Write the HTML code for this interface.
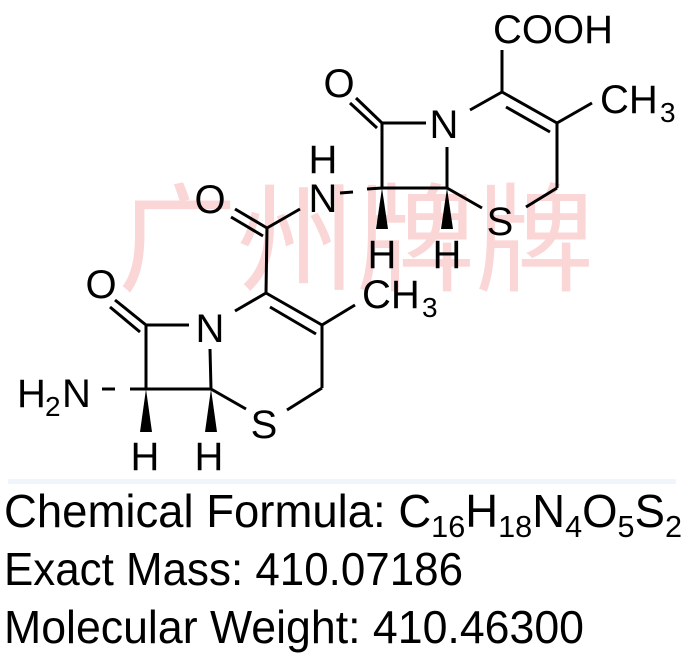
<!DOCTYPE html>
<html><head><meta charset="utf-8"><style>
html,body{margin:0;padding:0;background:#fff;}
svg{display:block;}
</style></head><body>
<svg width="684" height="665" viewBox="0 0 684 665" xmlns="http://www.w3.org/2000/svg">
<rect width="684" height="665" fill="#fff"/>
<text x="118" y="282" font-family="Noto Sans CJK SC, WenQuanYi Zen Hei, sans-serif" font-size="118" fill="#fbd6d6" textLength="476" lengthAdjust="spacingAndGlyphs">广州牌牌</text>
<rect x="8" y="479" width="668" height="5" fill="#f0f5fb"/>
<g stroke="#000" stroke-width="3" fill="none" stroke-linecap="butt">
<line x1="502" y1="92" x2="502" y2="50"/>
<line x1="470" y1="110" x2="502" y2="92"/>
<line x1="502" y1="92" x2="557" y2="123"/>
<line x1="506" y1="107" x2="550" y2="132"/>
<line x1="557" y1="123" x2="592" y2="103"/>
<line x1="557" y1="123" x2="557" y2="188"/>
<line x1="557" y1="188" x2="526" y2="207"/>
<line x1="482" y1="208" x2="447" y2="188"/>
<line x1="447" y1="188" x2="447" y2="147"/>
<line x1="447" y1="188" x2="382" y2="188"/>
<line x1="382" y1="188" x2="382" y2="123"/>
<line x1="382" y1="123" x2="426" y2="123"/>
<line x1="382" y1="123" x2="356" y2="98"/>
<line x1="377" y1="128" x2="350" y2="103"/>
<line x1="340" y1="193" x2="353" y2="192"/>
<line x1="367" y1="189" x2="382" y2="188"/>
<line x1="300" y1="209" x2="267" y2="228"/>
<line x1="267" y1="228" x2="235" y2="209"/>
<line x1="263" y1="236" x2="231" y2="217"/>
<line x1="267" y1="228" x2="266" y2="293"/>
<line x1="266" y1="293" x2="235" y2="311"/>
<line x1="266" y1="293" x2="322" y2="325"/>
<line x1="270" y1="307" x2="316" y2="334"/>
<line x1="322" y1="325" x2="355" y2="305"/>
<line x1="322" y1="325" x2="322" y2="388"/>
<line x1="322" y1="388" x2="287" y2="410"/>
<line x1="246" y1="409" x2="211" y2="389"/>
<line x1="211" y1="389" x2="210" y2="349"/>
<line x1="211" y1="389" x2="146" y2="389"/>
<line x1="146" y1="389" x2="146" y2="325"/>
<line x1="146" y1="325" x2="189" y2="325"/>
<line x1="146" y1="325" x2="115" y2="300"/>
<line x1="140" y1="332" x2="110" y2="307"/>
<line x1="102" y1="389" x2="115" y2="389"/>
<line x1="130" y1="389" x2="146" y2="389"/>
</g>
<g fill="#000">
<polygon points="382,188 376,229 388,229"/>
<polygon points="447,188 441,229 453,229"/>
<polygon points="146,389 140,432 152,432"/>
<polygon points="211,389 205,432 217,432"/>
</g>
<g font-family="Liberation Sans, Arial, sans-serif" font-size="40" fill="#000" text-anchor="middle">
<text x="553" y="43" textLength="120" lengthAdjust="spacingAndGlyphs">COOH</text>
<text x="444" y="138">N</text>
<text x="339" y="97">O</text>
<text x="500" y="235">S</text>
<text x="382" y="268">H</text>
<text x="447" y="268">H</text>
<text x="323" y="212">N</text>
<text x="323" y="173">H</text>
<text x="210" y="213">O</text>
<text x="210" y="342">N</text>
<text x="101" y="298">O</text>
<text x="264" y="438">S</text>
<text x="145" y="470">H</text>
<text x="209" y="470">H</text>
</g>
<g font-family="Liberation Sans, Arial, sans-serif" font-size="40" fill="#000">
<text x="600" y="113">CH</text><text x="660" y="122" font-size="28">3</text>
<text x="362" y="308">CH</text><text x="422" y="317" font-size="28">3</text>
<text x="17" y="407">H</text><text x="45" y="416" font-size="28">2</text><text x="62" y="407">N</text>
</g>
<g font-family="Liberation Sans, Arial, sans-serif" font-size="46" fill="#000">
<text x="4" y="527" textLength="678" lengthAdjust="spacingAndGlyphs">Chemical Formula: C<tspan font-size="31" dy="10">16</tspan><tspan dy="-10">H</tspan><tspan font-size="31" dy="10">18</tspan><tspan dy="-10">N</tspan><tspan font-size="31" dy="10">4</tspan><tspan dy="-10">O</tspan><tspan font-size="31" dy="10">5</tspan><tspan dy="-10">S</tspan><tspan font-size="31" dy="10">2</tspan></text>
<text x="4" y="585" textLength="459" lengthAdjust="spacingAndGlyphs">Exact Mass: 410.07186</text>
<text x="4" y="643" textLength="580" lengthAdjust="spacingAndGlyphs">Molecular Weight: 410.46300</text>
</g>
</svg>
</body></html>
